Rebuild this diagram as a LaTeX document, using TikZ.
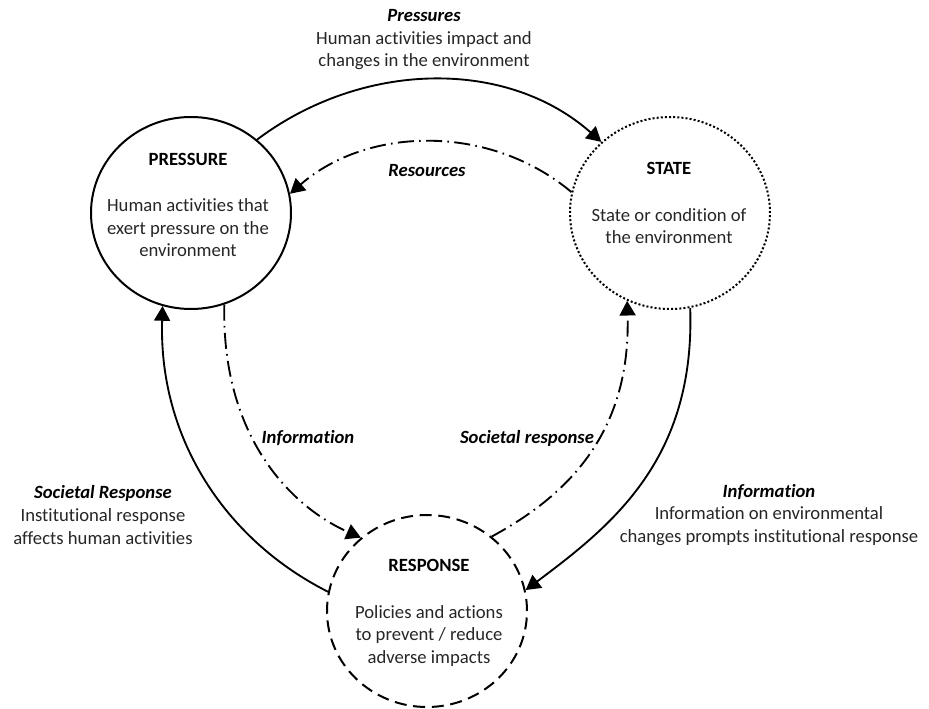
\documentclass[tikz,border=0pt]{standalone}
\usepackage{fontspec}
\setmainfont{Carlito}[Ligatures=NoCommon]
\usetikzlibrary{arrows.meta,shapes.geometric}

\begin{document}
\begin{tikzpicture}[x=0.75pt,y=-0.75pt,
  txt/.style={font=\fontsize{14}{16.9}\selectfont, text=black!85, align=center, inner sep=0pt},
  lbl/.style={txt, font=\fontsize{14}{16.9}\selectfont\bfseries\itshape, text=black},
  ring/.style={ellipse, minimum width=150pt, minimum height=144pt, inner sep=0pt, line width=1.5pt, draw=black},
  flow/.style={line width=1.4pt, -{Triangle[length=11pt,width=12pt]}},
  feedback/.style={flow, dash pattern=on 12pt off 4pt on 1.2pt off 4pt},
]
\useasboundingbox (0,0) rectangle (929,709);

% the three stages of the cycle
\node[ring] (p) at (191,213) {};
\node[ring, dash pattern=on 1.5pt off 1.6pt] (s) at (670,213) {};
\node[ring, dash pattern=on 9pt off 5pt] (r) at (427,611) {};

\node[txt] (pt) at (188,205) {{\bfseries\color{black}PRESSURE}\\[18pt]Human activities that\\exert pressure on the\\environment};
\node[txt] (st) at (669,203) {{\bfseries\color{black}STATE}\\[18pt]State or condition of\\the environment};
\node[txt] (rt) at (429,613) {{\bfseries\color{black}RESPONSE}\\[18pt]Policies and actions\\to prevent / reduce\\adverse impacts};

% outer loop
\draw[flow] (p.48) .. controls +(105,-79) and +(-95,-84) .. (s.134);
\draw[flow] (s.282) .. controls +(5,151) and +(87,-65) .. (r.12);
\draw[flow] (r.169) .. controls +(-103,-52) and +(-4,132) .. (p.253);

% inner loop
\draw[feedback] (s.168) .. controls +(-81,-68) and +(78,-68) .. (p.11);
\draw[feedback] (p.290) .. controls +(-3,134) and +(-68,-30) .. (r.132);
\draw[feedback] (r.49) .. controls +(70,-38) and +(4,137) .. (s.244);

% connector labels
\node[txt] (lp) at (424,40) {{\bfseries\itshape\color{black}Pressures}\\Human activities impact and\\changes in the environment};
\node[lbl] (lres) at (427,171) {Resources};
\node[lbl] (linf) at (308,438) {Information};
\node[lbl] (lsoc) at (527,438) {Societal response};
\node[txt] (lsr) at (103,515) {{\bfseries\itshape\color{black}Societal Response}\\Institutional response\\affects human activities};
\node[txt] (lir) at (769,515) {{\bfseries\itshape\color{black}Information}\\Information on environmental\\changes prompts institutional response};
\end{tikzpicture}
\end{document}
